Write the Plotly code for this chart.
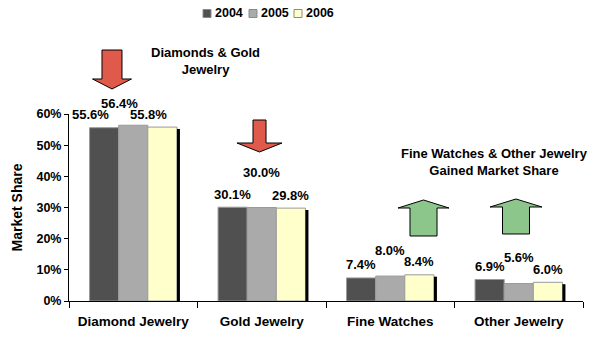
import plotly.graph_objects as go

categories = ["Diamond Jewelry", "Gold Jewelry", "Fine Watches", "Other Jewelry"]
years = ["2004", "2005", "2006"]
share_2004 = [55.6, 30.1, 7.4, 6.9]
share_2005 = [56.4, 30.0, 8.0, 5.6]
share_2006 = [55.8, 29.8, 8.4, 6.0]
y_ticks = [0, 10, 20, 30, 40, 50, 60]
y_tick_labels = ["0%", "10%", "20%", "30%", "40%", "50%", "60%"]

series = [share_2004, share_2005, share_2006]
colors = ["#505050", "#AAAAAA", "#FFFFCC"]

# plot area in pixels
L, R, T, B = 69, 583, 114, 301
W, H = 604, 339
BARGAP = 0.32

def px(x):
    return (x - L) / (R - L)

def py(y):
    return (B - y) / (B - T)

FONT = "Liberation Sans, Arial, sans-serif"
BOLD = lambda s: dict(family=FONT, size=s, color="black", weight="bold")

fig = go.Figure()
for name, vals, c in zip(years, series, colors):
    fig.add_trace(go.Bar(
        x=categories, y=vals, name=name, showlegend=False,
        marker=dict(color=c, line=dict(color="#9A9A9A", width=1)),
    ))

# value labels
cat_w = (R - L) / len(categories)
bar_w = cat_w * (1 - BARGAP) / 3
label_lift = {0: 13, 1: 26, 2: 13}
annotations = []
for i, vals in enumerate(series):
    for j, v in enumerate(vals):
        lift = label_lift[i]
        if i == 1 and j == 1:
            lift = 35
        if i == 1 and j == 0:
            lift = 22
        xs = (i - 1) * bar_w
        if j == 0:
            xs -= 14
        annotations.append(dict(
            x=categories[j], y=v, xref="x", yref="y",
            text=f"{v:.1f}%", showarrow=False,
            xshift=xs, yshift=lift, yanchor="middle", xanchor="center",
            font=BOLD(13),
        ))

# drop shadow on right of each group
shapes = []
half = 0.5 * (1 - BARGAP)
for j, v in enumerate(share_2006):
    shapes.append(dict(
        type="rect", xref="x", yref="y",
        x0=categories[j], x1=categories[j],
        x0shift=half, x1shift=half + 3 / cat_w,
        y0=0, y1=v - 0.6,
        fillcolor="black", line=dict(width=0), layer="above",
    ))

def arrow(cx, y_base, y_tip, shaft_w, head_w, head_start, fill):
    pts = [
        (cx - shaft_w / 2, y_base), (cx + shaft_w / 2, y_base),
        (cx + shaft_w / 2, head_start), (cx + head_w / 2, head_start),
        (cx, y_tip), (cx - head_w / 2, head_start),
        (cx - shaft_w / 2, head_start),
    ]
    path = "M " + " L ".join(f"{px(a):.4f},{py(b):.4f}" for a, b in pts) + " Z"
    return dict(type="path", xref="paper", yref="paper", path=path,
                fillcolor=fill, line=dict(color="black", width=1))

RED = "#E05A4B"
GREEN = "#8DC68A"
shapes.append(arrow(112, 50, 89, 20, 39, 79, RED))
shapes.append(arrow(259.5, 120, 152, 13, 45, 143, RED))
shapes.append(arrow(423.5, 236, 200, 27, 51, 208, GREEN))
shapes.append(arrow(516, 234, 199, 27, 52, 207, GREEN))

# custom compact legend
legend_x = [203, 249, 294]
for name, c, lx in zip(years, colors, legend_x):
    shapes.append(dict(
        type="rect", xref="paper", yref="paper",
        x0=px(lx), x1=px(lx + 8), y0=py(17.5), y1=py(9.5),
        fillcolor=c, line=dict(color="#8A8A8A", width=1),
    ))
    annotations.append(dict(
        x=px(lx + 10), y=py(13), xref="paper", yref="paper",
        text=name, showarrow=False, xanchor="left", yanchor="middle",
        font=BOLD(12.5),
    ))

annotations.append(dict(
    x=px(205), y=py(61), xref="paper", yref="paper",
    text="Diamonds & Gold<br>Jewelry", showarrow=False,
    xanchor="center", yanchor="middle",
    font=BOLD(13),
))
annotations.append(dict(
    x=px(494), y=py(162), xref="paper", yref="paper",
    text="Fine Watches & Other Jewelry<br>Gained Market Share", showarrow=False,
    xanchor="center", yanchor="middle",
    font=BOLD(13),
))

fig.update_layout(
    width=W, height=H,
    margin=dict(l=L, r=W - R, t=T, b=H - B, pad=0),
    paper_bgcolor="white", plot_bgcolor="white",
    barmode="group", bargap=BARGAP, bargroupgap=0,
    font=dict(family=FONT, color="black"),
    showlegend=False,
    annotations=annotations,
    shapes=shapes,
)
fig.update_xaxes(
    showline=True, linecolor="black", linewidth=1,
    ticks="outside", ticklen=6, tickcolor="black", tickson="boundaries",
    tickfont=BOLD(13.5), ticklabelstandoff=8, automargin=False,
    showgrid=False,
)
fig.update_yaxes(
    range=[0, 60], tickvals=y_ticks, ticktext=y_tick_labels,
    showline=True, linecolor="black", linewidth=1,
    ticks="outside", ticklen=4, tickcolor="black",
    tickfont=BOLD(12.5), automargin=False,
    showgrid=False, zeroline=False,
    title=dict(text="Market Share", standoff=10, font=BOLD(14)),
)

fig.write_html("out.html")
